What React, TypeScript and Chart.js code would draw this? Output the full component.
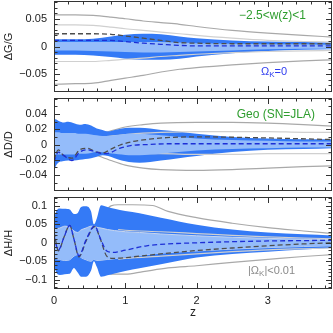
import { useEffect, useRef } from "react";
import { Chart, registerables } from "chart.js";

Chart.register(...registerables);

const FONT = "'Liberation Sans', Arial, sans-serif";

// ---------------- shared redshift axis ----------------
const Z_MIN = 0;
const Z_MAX = 3.9;
const Z_TICKS = [0, 1, 2, 3];
const Z_TICK_LABELS = ["0", "1", "2", "3"];
const Z_MINOR = 0.2;

// ---------------- panel 1 : ΔG/G ----------------
const G_RANGE = [-0.082, 0.082];
const G_TICKS = [-0.05, 0, 0.05];
const G_TICK_LABELS = ["\u22120.05", "0", "0.05"];
const G_Z = [0, 0.3, 0.55, 0.8, 1.0, 1.25, 1.5, 1.76, 2.0, 2.5, 3.0, 3.5, 3.9];
const G_OUT_UP = [0.057, 0.057, 0.056, 0.053, 0.05, 0.046, 0.043, 0.04, 0.036, 0.029, 0.024, 0.02, 0.017];
const G_IN_UP = [0.039, 0.039, 0.038, 0.035, 0.032, 0.029, 0.026, 0.023, 0.02, 0.015, 0.011, 0.009, 0.008];
const G_IN_LO = [-0.027, -0.027, -0.027, -0.025, -0.023, -0.021, -0.018, -0.016, -0.014, -0.011, -0.009, -0.008, -0.007];
const G_OUT_LO = [-0.068, -0.067, -0.066, -0.061, -0.057, -0.052, -0.046, -0.041, -0.038, -0.033, -0.029, -0.026, -0.024];
const G_DK_UP = [0.013, 0.013, 0.014, 0.018, 0.021, 0.023, 0.022, 0.018, 0.015, 0.011, 0.009, 0.008, 0.007];
const G_DK_LO = [-0.015, -0.015, -0.016, -0.019, -0.022, -0.024, -0.024, -0.022, -0.018, -0.012, -0.008, -0.006, -0.005];
const G_LT_UP = [0.008, 0.008, 0.008, 0.008, 0.008, 0.008, 0.008, 0.007, 0.006, 0.005, 0.004, 0.004, 0.003];
const G_LT_LO = [-0.007, -0.007, -0.008, -0.009, -0.01, -0.011, -0.011, -0.01, -0.009, -0.007, -0.005, -0.004, -0.004];
const G_DASH_GR = [0.023, 0.023, 0.023, 0.022, 0.019, 0.015, 0.011, 0.007, 0.006, 0.005, 0.005, 0.005, 0.005];
const G_DASH_BL = [0.011, 0.011, 0.011, 0.011, 0.009, 0.006, 0.004, 0.002, 0.001, 0.001, 0.001, 0.001, 0.001];

// ---------------- panel 2 : ΔD/D ----------------
const D_RANGE = [-0.061, 0.061];
const D_TICKS = [-0.04, -0.02, 0, 0.02, 0.04];
const D_TICK_LABELS = ["\u22120.04", "\u22120.02", "0", "0.02", "0.04"];
const D_Z = [0, 0.02, 0.06, 0.12, 0.2, 0.28, 0.36, 0.44, 0.52, 0.6, 0.68, 0.76, 0.85, 0.95, 1.05, 1.2, 1.35, 1.5, 1.75, 2.0, 2.5, 3.0, 3.5, 3.9];
const D_DK_UP = [0.033, 0.033, 0.031, 0.029, 0.03, 0.028, 0.026, 0.027, 0.025, 0.021, 0.019, 0.017, 0.019, 0.021, 0.022, 0.022, 0.021, 0.019, 0.017, 0.014, 0.01, 0.008, 0.007, 0.007];
const D_DK_LO = [-0.038, -0.03, -0.024, -0.022, -0.021, -0.021, -0.02, -0.019, -0.018, -0.016, -0.014, -0.015, -0.018, -0.021, -0.023, -0.024, -0.023, -0.021, -0.018, -0.015, -0.01, -0.007, -0.006, -0.005];
const D_LT_UP = [0.016, 0.016, 0.016, 0.015, 0.015, 0.015, 0.014, 0.014, 0.013, 0.012, 0.011, 0.011, 0.012, 0.013, 0.014, 0.014, 0.013, 0.012, 0.01, 0.008, 0.006, 0.005, 0.004, 0.004];
const D_LT_LO = [-0.013, -0.013, -0.013, -0.013, -0.013, -0.013, -0.012, -0.012, -0.011, -0.01, -0.01, -0.011, -0.012, -0.013, -0.014, -0.014, -0.013, -0.012, -0.01, -0.008, -0.006, -0.005, -0.004, -0.004];
const D_GZ = [0.6, 0.8, 1.0, 1.25, 1.5, 2.0, 2.5, 3.0, 3.5, 3.9];
const D_OUT_UP = [0.012, 0.018, 0.023, 0.026, 0.028, 0.029, 0.029, 0.028, 0.026, 0.024];
const D_IN_UP = [0.009, 0.011, 0.013, 0.015, 0.016, 0.017, 0.017, 0.017, 0.016, 0.016];
const D_IN_LO = [-0.009, -0.01, -0.011, -0.012, -0.012, -0.013, -0.013, -0.012, -0.012, -0.012];
const D_OUT_LO = [-0.014, -0.021, -0.027, -0.031, -0.033, -0.034, -0.033, -0.031, -0.029, -0.028];
const D_DZ = [0, 0.06, 0.13, 0.25, 0.36, 0.46, 0.6, 0.69, 0.78, 0.92, 1.11, 1.34, 1.58, 2.04, 2.8, 3.9];
const D_DASH_BL = [-0.023, -0.01, -0.014, -0.021, -0.01, -0.007, -0.01, -0.012, -0.011, -0.005, -0.001, 0.0, 0.001, 0.001, 0.001, 0.001];
const D_DASH_GR = [-0.02, -0.007, -0.014, -0.018, -0.007, -0.005, -0.01, -0.011, -0.007, -0.001, 0.004, 0.007, 0.009, 0.01, 0.009, 0.0065];

// ---------------- panel 3 : ΔH/H ----------------
const H_RANGE = [-0.125, 0.124];
const H_TICKS = [-0.1, -0.05, 0, 0.05, 0.1];
const H_TICK_LABELS = ["\u22120.1", "\u22120.05", "0", "0.05", "0.1"];
const H_Z = [0, 0.03, 0.08, 0.15, 0.22, 0.28, 0.33, 0.38, 0.45, 0.52, 0.56, 0.6, 0.66, 0.75, 0.85, 1.0, 1.2, 1.5, 2.0, 2.5, 3.0, 3.5, 3.9];
const H_DK_UP = [0.065, 0.085, 0.093, 0.092, 0.09, 0.078, 0.08, 0.097, 0.099, 0.085, 0.05, 0.066, 0.102, 0.097, 0.092, 0.086, 0.08, 0.068, 0.049, 0.036, 0.028, 0.023, 0.02];
const H_DK_LO = [-0.06, -0.08, -0.087, -0.085, -0.084, -0.068, -0.08, -0.092, -0.092, -0.075, -0.05, -0.065, -0.092, -0.088, -0.083, -0.076, -0.069, -0.058, -0.04, -0.03, -0.024, -0.018, -0.014];
const H_LT_UP = [0.035, 0.038, 0.04, 0.045, 0.042, 0.032, 0.028, 0.035, 0.04, 0.045, 0.045, 0.042, 0.04, 0.036, 0.033, 0.03, 0.028, 0.024, 0.019, 0.015, 0.012, 0.01, 0.009];
const H_LT_LO = [-0.04, -0.043, -0.045, -0.048, -0.046, -0.036, -0.032, -0.04, -0.046, -0.05, -0.045, -0.048, -0.047, -0.045, -0.043, -0.038, -0.034, -0.028, -0.022, -0.017, -0.013, -0.01, -0.008];
const H_OUT_UP_Z = [0.7, 0.8, 0.9, 1.1, 1.38, 1.6, 2.0, 2.5, 3.0, 3.5, 3.9];
const H_OUT_UP = [0.08, 0.1, 0.103, 0.103, 0.101, 0.085, 0.068, 0.053, 0.041, 0.032, 0.025];
const H_OUT_LO_Z = [0.7, 0.8, 1.0, 1.25, 1.6, 2.0, 2.5, 3.0, 3.5, 3.9];
const H_OUT_LO = [-0.075, -0.085, -0.085, -0.078, -0.068, -0.062, -0.053, -0.045, -0.037, -0.032];
const H_IN_Z = [0.9, 1.0, 1.5, 2.0, 2.5, 3.0, 3.5, 3.9];
const H_IN_UP = [0.036, 0.034, 0.03, 0.025, 0.02, 0.016, 0.013, 0.011];
const H_IN_LO = [-0.044, -0.042, -0.036, -0.03, -0.024, -0.019, -0.016, -0.014];
const H_DZ = [0, 0.03, 0.06, 0.14, 0.22, 0.28, 0.35, 0.45, 0.57, 0.65, 0.74, 0.83, 1.0, 1.3, 1.6, 2.0, 2.5, 3.0, 3.5, 3.9];
const H_DASH_GR = [0.03, 0.0, -0.022, 0.015, 0.047, 0.01, -0.038, 0.005, 0.044, 0.01, -0.036, -0.042, -0.04, -0.034, -0.028, -0.021, -0.014, -0.008, -0.003, 0.0];
const H_DASH_BL = [0.02, -0.005, -0.02, 0.015, 0.047, 0.01, -0.035, 0.008, 0.046, 0.012, -0.022, -0.026, -0.02, -0.008, -0.003, 0.0, 0.003, 0.005, 0.006, 0.007];

// ---------------- styles ----------------
const C_DARK = "rgb(52,122,246)";
const C_LIGHT = "rgb(148,188,250)";
const C_OUT = "#a9a9a9";
const C_IN = "#d0d0d0";
const C_DGRAY = "#4d4d4d";
const C_DBLUE = "#1d2fd6";
const C_GREEN = "#2e9d2e";
const C_TBLUE = "#2e3cf0";
const C_TGRAY = "#8a8a8a";

const CANVAS = 333;

const pts = (zs: number[], ys: number[]) => zs.map((z, i) => ({ x: z, y: ys[i] }));

const lineDs = (zs: number[], ys: number[], color: string, width: number, dash: number[], order: number) => ({
  data: pts(zs, ys),
  borderColor: color,
  borderWidth: width,
  borderDash: dash,
  pointRadius: 0,
  fill: false,
  order,
  cubicInterpolationMode: "monotone",
});

const bandDs = (zs: number[], up: number[], lo: number[], color: string, order: number, edge?: string) => [
  {
    data: pts(zs, up),
    borderColor: edge || "rgba(0,0,0,0)",
    borderWidth: edge ? 1 : 0,
    backgroundColor: color,
    pointRadius: 0,
    fill: "+1",
    order,
    cubicInterpolationMode: "monotone",
  },
  {
    data: pts(zs, lo),
    borderColor: edge || "rgba(0,0,0,0)",
    borderWidth: edge ? 1 : 0,
    pointRadius: 0,
    fill: false,
    order,
    cubicInterpolationMode: "monotone",
  },
];

type TextPart = { t: string; size: number; dy?: number };
type Label = { parts: TextPart[]; x: number; y: number; color: string; align: "left" | "right" };

const makePlugin = (yTicks: number[], yMinor: number, labels: Label[], canvasTop: number) => ({
  id: "frameTicks",
  afterDraw(chart: any) {
    const { ctx, chartArea: a, scales } = chart;
    const xs = scales.x;
    const ys = scales.y;
    ctx.save();
    ctx.strokeStyle = "#333";
    ctx.lineWidth = 1;
    ctx.beginPath();
    const xt = (v: number, len: number) => {
      const p = Math.round(xs.getPixelForValue(v)) + 0.5;
      ctx.moveTo(p, a.bottom);
      ctx.lineTo(p, a.bottom - len);
      ctx.moveTo(p, a.top);
      ctx.lineTo(p, a.top + len);
    };
    const yt = (v: number, len: number) => {
      const p = Math.round(ys.getPixelForValue(v)) + 0.5;
      ctx.moveTo(a.left, p);
      ctx.lineTo(a.left + len, p);
      ctx.moveTo(a.right, p);
      ctx.lineTo(a.right - len, p);
    };
    for (let k = Math.ceil(Z_MIN / Z_MINOR); k * Z_MINOR <= Z_MAX + 1e-9; k++) xt(k * Z_MINOR, 3.5);
    Z_TICKS.forEach((v) => xt(v, 6));
    for (let k = Math.ceil(ys.min / yMinor); k * yMinor <= ys.max + 1e-9; k++) yt(k * yMinor, 3.5);
    yTicks.forEach((v) => yt(v, 6));
    ctx.stroke();
    ctx.strokeRect(a.left + 0.5, a.top + 0.5, a.right - a.left - 1, a.bottom - a.top - 1);

    labels.forEach((lb) => {
      ctx.fillStyle = lb.color;
      ctx.textBaseline = "middle";
      ctx.textAlign = "left";
      const widths = lb.parts.map((p) => {
        ctx.font = `${p.size}px ${FONT}`;
        return ctx.measureText(p.t).width;
      });
      const total = widths.reduce((s, w) => s + w, 0);
      let x = lb.align === "right" ? lb.x - total : lb.x;
      lb.parts.forEach((p, i) => {
        ctx.font = `${p.size}px ${FONT}`;
        ctx.fillText(p.t, x, lb.y - canvasTop + (p.dy || 0));
        x += widths[i];
      });
    });
    ctx.restore();
  },
});

type PanelCfg = {
  datasets: any[];
  range: number[];
  ticks: number[];
  tickLabels: string[];
  minor: number;
  title: string;
  canvasTop: number;
  areaTop: number;
  areaBottom: number;
  showX: boolean;
  labels: Label[];
};

const X_AXIS_H = 31;

function buildChart(canvas: HTMLCanvasElement, p: PanelCfg) {
  const padTop = p.areaTop - p.canvasTop;
  const padBottom = p.canvasTop + CANVAS - p.areaBottom - (p.showX ? X_AXIS_H : 0);
  return new Chart(canvas, {
    type: "line",
    data: { datasets: p.datasets },
    plugins: [makePlugin(p.ticks, p.minor, p.labels, p.canvasTop)],
    options: {
      responsive: false,
      animation: false,
      events: [],
      layout: { padding: { top: padTop, bottom: padBottom, left: 0, right: 1 } },
      plugins: { legend: { display: false }, tooltip: { enabled: false } },
      scales: {
        x: {
          type: "linear",
          display: p.showX,
          min: Z_MIN,
          max: Z_MAX,
          afterBuildTicks: (s: any) => {
            s.ticks = Z_TICKS.map((v) => ({ value: v }));
          },
          afterFit: (s: any) => {
            s.height = p.showX ? X_AXIS_H : 0;
          },
          grid: { display: false, drawTicks: false },
          border: { display: false },
          ticks: {
            padding: 5,
            color: "#222",
            font: { family: FONT, size: 11 },
            maxRotation: 0,
            callback: (_v: any, i: number) => Z_TICK_LABELS[i],
          },
          title: {
            display: true,
            text: "z",
            color: "#222",
            font: { family: FONT, size: 12 },
            padding: { top: 0, bottom: 0 },
          },
        },
        y: {
          type: "linear",
          min: p.range[0],
          max: p.range[1],
          afterBuildTicks: (s: any) => {
            s.ticks = p.ticks.map((v) => ({ value: v }));
          },
          afterFit: (s: any) => {
            s.width = 54;
          },
          grid: { display: false, drawTicks: false },
          border: { display: false },
          ticks: {
            padding: 7,
            color: "#222",
            font: { family: FONT, size: 11 },
            callback: (_v: any, i: number) => p.tickLabels[i],
          },
          title: {
            display: true,
            text: p.title,
            color: "#222",
            font: { family: FONT, size: 11 },
            padding: { top: 2, bottom: 0 },
          },
        },
      },
    } as any,
  });
}

const PANELS: PanelCfg[] = [
  {
    datasets: [
      lineDs(G_Z, G_DASH_BL, C_DBLUE, 1.3, [5, 3], 0),
      lineDs(G_Z, G_DASH_GR, C_DGRAY, 1.3, [5, 3], 1),
      ...bandDs(G_Z, G_LT_UP, G_LT_LO, C_LIGHT, 2),
      lineDs(G_Z, G_IN_UP, C_IN, 1.2, [], 2.5),
      lineDs(G_Z, G_IN_LO, C_IN, 1.2, [], 2.5),
      ...bandDs(G_Z, G_DK_UP, G_DK_LO, C_DARK, 3),
      lineDs(G_Z, G_OUT_UP, C_OUT, 1.2, [], 4),
      lineDs(G_Z, G_OUT_LO, C_OUT, 1.2, [], 4),
    ],
    range: G_RANGE,
    ticks: G_TICKS,
    tickLabels: G_TICK_LABELS,
    minor: 0.01,
    title: "\u0394G/G",
    canvasTop: -40,
    areaTop: 1,
    areaBottom: 92,
    showX: false,
    labels: [
      { parts: [{ t: "\u22122.5<w(z)<1", size: 12 }], x: 306, y: 16, color: C_GREEN, align: "right" },
      {
        parts: [
          { t: "\u03a9", size: 11 },
          { t: "K", size: 8, dy: 3 },
          { t: "=0", size: 11 },
        ],
        x: 261,
        y: 72,
        color: C_TBLUE,
        align: "left",
      },
    ],
  },
  {
    datasets: [
      lineDs(D_DZ, D_DASH_BL, C_DBLUE, 1.3, [5, 3], 0),
      lineDs(D_DZ, D_DASH_GR, C_DGRAY, 1.3, [5, 3], 1),
      ...bandDs(D_Z, D_LT_UP, D_LT_LO, C_LIGHT, 2),
      lineDs(D_GZ, D_IN_UP, C_IN, 1.2, [], 2.5),
      lineDs(D_GZ, D_IN_LO, C_IN, 1.2, [], 2.5),
      ...bandDs(D_Z, D_DK_UP, D_DK_LO, C_DARK, 3),
      lineDs(D_GZ, D_OUT_UP, C_OUT, 1.2, [], 4),
      lineDs(D_GZ, D_OUT_LO, C_OUT, 1.2, [], 4),
    ],
    range: D_RANGE,
    ticks: D_TICKS,
    tickLabels: D_TICK_LABELS,
    minor: 0.01,
    title: "\u0394D/D",
    canvasTop: 0,
    areaTop: 98,
    areaBottom: 191,
    showX: false,
    labels: [{ parts: [{ t: "Geo (SN=JLA)", size: 12 }], x: 315, y: 115, color: C_GREEN, align: "right" }],
  },
  {
    datasets: [
      lineDs(H_DZ, H_DASH_BL, C_DBLUE, 1.3, [5, 3], 0),
      lineDs(H_DZ, H_DASH_GR, C_DGRAY, 1.3, [5, 3], 1),
      ...bandDs(H_Z, H_LT_UP, H_LT_LO, C_LIGHT, 2, "rgb(200,214,238)"),
      lineDs(H_IN_Z, H_IN_UP, C_IN, 1.2, [], 2.5),
      lineDs(H_IN_Z, H_IN_LO, C_IN, 1.2, [], 2.5),
      ...bandDs(H_Z, H_DK_UP, H_DK_LO, C_DARK, 3),
      lineDs(H_OUT_UP_Z, H_OUT_UP, C_OUT, 1.2, [], 4),
      lineDs(H_OUT_LO_Z, H_OUT_LO, C_OUT, 1.2, [], 4),
    ],
    range: H_RANGE,
    ticks: H_TICKS,
    tickLabels: H_TICK_LABELS,
    minor: 0.01,
    title: "\u0394H/H",
    canvasTop: 0,
    areaTop: 197,
    areaBottom: 289,
    showX: true,
    labels: [
      {
        parts: [
          { t: "|\u03a9", size: 11 },
          { t: "K", size: 8, dy: 3 },
          { t: "|<0.01", size: 11 },
        ],
        x: 248,
        y: 271,
        color: C_TGRAY,
        align: "left",
      },
    ],
  },
];

export default function App() {
  const r0 = useRef<HTMLCanvasElement>(null);
  const r1 = useRef<HTMLCanvasElement>(null);
  const r2 = useRef<HTMLCanvasElement>(null);

  useEffect(() => {
    const refs = [r0, r1, r2];
    const charts = PANELS.map((p, i) => buildChart(refs[i].current as HTMLCanvasElement, p));
    return () => charts.forEach((c) => c.destroy());
  }, []);

  const refs = [r0, r1, r2];
  return (
    <div style={{ position: "fixed", left: 0, top: 0, width: 333, height: 333, background: "#fff", overflow: "hidden" }}>
      {PANELS.map((p, i) => (
        <canvas
          key={i}
          ref={refs[i]}
          width={CANVAS}
          height={CANVAS}
          style={{ position: "absolute", left: 0, top: p.canvasTop, width: CANVAS, height: CANVAS }}
        />
      ))}
    </div>
  );
}
